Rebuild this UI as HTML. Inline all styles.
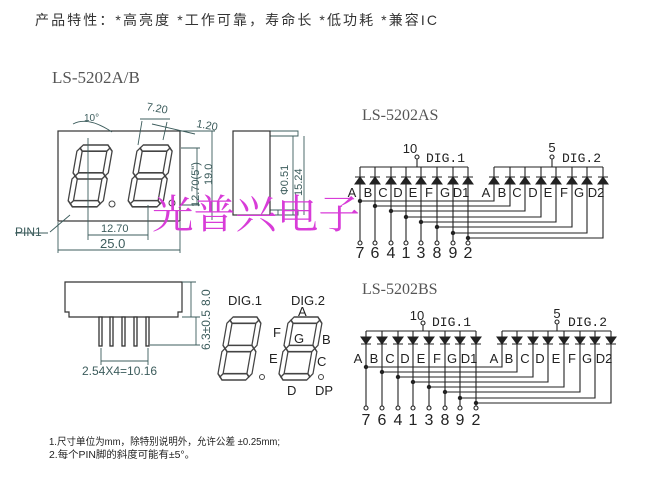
<!DOCTYPE html>
<html><head><meta charset="utf-8"><style>
html,body{margin:0;padding:0;background:#fff;}
svg{display:block;}
.t{font-family:"Liberation Sans","Noto Sans CJK SC",sans-serif;}
.s{font-family:"Liberation Serif","Noto Serif CJK SC",serif;}
</style></head><body>
<svg width="650" height="488" viewBox="0 0 650 488" xmlns="http://www.w3.org/2000/svg">
<defs>
<g id="dg" fill="#fff" stroke="#444" stroke-width="1.5">
<polygon points="3,3 6,0 34,0 37,3 34,6 6,6"/>
<polygon points="3,30 6,27 34,27 37,30 34,33 6,33"/>
<polygon points="3,57 6,54 34,54 37,57 34,60 6,60"/>
<polygon points="0,6 3,3 6,6 6,27 3,30 0,27"/>
<polygon points="34,6 37,3 40,6 40,27 37,30 34,27"/>
<polygon points="0,33 3,30 6,33 6,54 3,57 0,54"/>
<polygon points="34,33 37,30 40,33 40,54 37,57 34,54"/>
</g>
</defs>
<rect width="650" height="488" fill="#fff"/>
<text x="35" y="25" class="t" font-size="14" fill="#333" textLength="402" lengthAdjust="spacing">产品特性：*高亮度 *工作可靠，寿命长 *低功耗 *兼容IC</text>
<text x="52" y="83" class="s" font-size="17" fill="#555">LS-5202A/B</text>

<!-- front view -->
<rect x="58" y="131" width="122" height="90" fill="#fff" stroke="#333" stroke-width="1.2"/>
<use href="#dg" transform="translate(78,145) skewX(-10) scale(0.88,1.03)"/>
<use href="#dg" transform="translate(138,145) skewX(-10) scale(0.88,1.03)"/>
<circle cx="112" cy="204" r="3" fill="#fff" stroke="#444"/>
<circle cx="172" cy="203" r="3" fill="#fff" stroke="#444"/>
<g stroke="#3c5c5c" stroke-width="0.9" fill="none">
<path d="M88 138V240 M148 205V240 M88 235H148 M58 222V253 M180 222V253 M58 250H180"/>
<path d="M73 124Q88 116 112 132 M142 121L138 145 M167 122L163 140 M140 119L170 119 M152 124L195 134 M181 148H200 M181 205H200 M197 148V205 M180 131H215 M212 131V220 M70 215L50 232 M15 233H48"/>
<path d="M270 136H298V131H270 M270 215H298V210H270 M278 210V215 M293 136V215 M304 136V215"/>
</g>
<rect x="233" y="131" width="37" height="84" fill="#fff" stroke="#333" stroke-width="1.2"/>
<text x="101" y="232" class="t" font-size="11" fill="#3c5c5c">12.70</text>
<text x="100" y="248" class="t" font-size="13" fill="#3c5c5c">25.0</text>
<text x="15" y="236" class="t" font-size="12" fill="#3c5c5c">PIN1</text>
<text x="84" y="121" class="t" font-size="10" fill="#3c5c5c">10°</text>
<text x="146" y="110" class="t" font-size="11" fill="#3c5c5c" transform="rotate(10 146 110)">7.20</text>
<text x="196" y="127" class="t" font-size="11" fill="#3c5c5c" transform="rotate(10 196 127)">1.20</text>
<text transform="translate(199,207) rotate(-90)" class="t" font-size="11" fill="#3c5c5c">12.70(5")</text>
<text transform="translate(212,185) rotate(-90)" class="t" font-size="11" fill="#3c5c5c">19.0</text>
<text transform="translate(288,195) rotate(-90)" class="t" font-size="11" fill="#3c5c5c">Φ0.51</text>
<text transform="translate(302,196) rotate(-90)" class="t" font-size="11" fill="#3c5c5c">15.24</text>
<text x="152" y="228" font-family="'Noto Serif CJK SC','Liberation Serif',serif" font-size="40" fill="#d83cd8" textLength="208" lengthAdjust="spacingAndGlyphs">光普兴电子</text>

<!-- AS schematic -->
<text x="362" y="120" class="s" font-size="16" fill="#555">LS-5202AS</text>
<g stroke="#222" stroke-width="1.1" fill="none">
<path d="M360 167V241 M375 167V241 M391 167V241 M406 167V241 M421 167V241 M437 167V241 M453 167V241 M468 167V241 M360 167H468 M494 167H603 M417 159V167 M552 159V167 M360 201H494V167 M375 206H510V167 M391 211H525V167 M406 217H541V167 M421 222H556V167 M437 227H572V167 M453 233H587V167 M468 238H603V167"/>
<circle cx="417" cy="157" r="2"/><circle cx="552" cy="157" r="2"/>
<circle cx="360" cy="243" r="2"/><circle cx="375" cy="243" r="2"/><circle cx="391" cy="243" r="2"/><circle cx="406" cy="243" r="2"/><circle cx="421" cy="243" r="2"/><circle cx="437" cy="243" r="2"/><circle cx="453" cy="243" r="2"/><circle cx="468" cy="243" r="2"/>
</g>
<path fill="#222" stroke="#222" stroke-width="1" d="M355 184h10l-5-7zM355 177h10 M370 184h10l-5-7zM370 177h10 M386 184h10l-5-7zM386 177h10 M401 184h10l-5-7zM401 177h10 M416 184h10l-5-7zM416 177h10 M432 184h10l-5-7zM432 177h10 M448 184h10l-5-7zM448 177h10 M463 184h10l-5-7zM463 177h10 M489 184h10l-5-7zM489 177h10 M505 184h10l-5-7zM505 177h10 M520 184h10l-5-7zM520 177h10 M536 184h10l-5-7zM536 177h10 M551 184h10l-5-7zM551 177h10 M567 184h10l-5-7zM567 177h10 M582 184h10l-5-7zM582 177h10 M598 184h10l-5-7zM598 177h10"/>
<g fill="#222"><circle cx="360" cy="201" r="2.2"/><circle cx="375" cy="206" r="2.2"/><circle cx="391" cy="211" r="2.2"/><circle cx="406" cy="217" r="2.2"/><circle cx="421" cy="222" r="2.2"/><circle cx="437" cy="227" r="2.2"/><circle cx="453" cy="233" r="2.2"/><circle cx="468" cy="238" r="2.2"/></g>
<g class="t" font-size="13" fill="#222" text-anchor="middle">
<text x="410" y="153">10</text><text x="552" y="152">5</text>
<text x="352" y="197">A</text><text x="368" y="197">B</text><text x="383" y="197">C</text><text x="398" y="197">D</text><text x="413" y="197">E</text><text x="429" y="197">F</text><text x="445" y="197">G</text><text x="461" y="197">D1</text>
<text x="486" y="197">A</text><text x="502" y="197">B</text><text x="517" y="197">C</text><text x="533" y="197">D</text><text x="548" y="197">E</text><text x="564" y="197">F</text><text x="579" y="197">G</text><text x="596" y="197">D2</text>
<text x="360" y="258" font-size="16">7</text><text x="375" y="258" font-size="16">6</text><text x="391" y="258" font-size="16">4</text><text x="406" y="258" font-size="16">1</text><text x="421" y="258" font-size="16">3</text><text x="437" y="258" font-size="16">8</text><text x="453" y="258" font-size="16">9</text><text x="468" y="258" font-size="16">2</text>
</g>
<text x="426" y="162" font-family="'Liberation Mono',monospace" font-size="13" fill="#222">DIG.1</text>
<text x="562" y="162" font-family="'Liberation Mono',monospace" font-size="13" fill="#222">DIG.2</text>

<!-- BS schematic -->
<text x="362" y="294" class="s" font-size="16" fill="#555">LS-5202BS</text>
<g stroke="#222" stroke-width="1.1" fill="none">
<path d="M366 331V406 M382 331V406 M398 331V406 M413 331V406 M429 331V406 M445 331V406 M460 331V406 M476 331V406 M366 331H476 M502 331H611 M423 325V331 M557 324V331 M366 367H502V331 M382 372H517V331 M398 377H533V331 M413 382H548V331 M429 387H564V331 M445 392H580V331 M460 398H595V331 M476 403H611V331"/>
<circle cx="423" cy="323" r="2"/><circle cx="557" cy="322" r="2"/>
<circle cx="366" cy="408" r="2"/><circle cx="382" cy="408" r="2"/><circle cx="398" cy="408" r="2"/><circle cx="413" cy="408" r="2"/><circle cx="429" cy="408" r="2"/><circle cx="445" cy="408" r="2"/><circle cx="460" cy="408" r="2"/><circle cx="476" cy="408" r="2"/>
</g>
<path fill="#222" stroke="#222" stroke-width="1" d="M361 337h10l-5 7zM361 344h10 M377 337h10l-5 7zM377 344h10 M393 337h10l-5 7zM393 344h10 M408 337h10l-5 7zM408 344h10 M424 337h10l-5 7zM424 344h10 M440 337h10l-5 7zM440 344h10 M455 337h10l-5 7zM455 344h10 M471 337h10l-5 7zM471 344h10 M497 337h10l-5 7zM497 344h10 M512 337h10l-5 7zM512 344h10 M528 337h10l-5 7zM528 344h10 M543 337h10l-5 7zM543 344h10 M559 337h10l-5 7zM559 344h10 M575 337h10l-5 7zM575 344h10 M590 337h10l-5 7zM590 344h10 M606 337h10l-5 7zM606 344h10"/>
<g fill="#222"><circle cx="366" cy="367" r="2.2"/><circle cx="382" cy="372" r="2.2"/><circle cx="398" cy="377" r="2.2"/><circle cx="413" cy="382" r="2.2"/><circle cx="429" cy="387" r="2.2"/><circle cx="445" cy="392" r="2.2"/><circle cx="460" cy="398" r="2.2"/><circle cx="476" cy="403" r="2.2"/></g>
<g class="t" font-size="13" fill="#222" text-anchor="middle">
<text x="417" y="320">10</text><text x="557" y="318">5</text>
<text x="358" y="363">A</text><text x="374" y="363">B</text><text x="390" y="363">C</text><text x="405" y="363">D</text><text x="421" y="363">E</text><text x="437" y="363">F</text><text x="452" y="363">G</text><text x="469" y="363">D1</text>
<text x="494" y="363">A</text><text x="509" y="363">B</text><text x="525" y="363">C</text><text x="540" y="363">D</text><text x="556" y="363">E</text><text x="572" y="363">F</text><text x="587" y="363">G</text><text x="604" y="363">D2</text>
<text x="366" y="425" font-size="16">7</text><text x="382" y="425" font-size="16">6</text><text x="398" y="425" font-size="16">4</text><text x="413" y="425" font-size="16">1</text><text x="429" y="425" font-size="16">3</text><text x="445" y="425" font-size="16">8</text><text x="460" y="425" font-size="16">9</text><text x="476" y="425" font-size="16">2</text>
</g>
<text x="432" y="326" font-family="'Liberation Mono',monospace" font-size="13" fill="#222">DIG.1</text>
<text x="568" y="326" font-family="'Liberation Mono',monospace" font-size="13" fill="#222">DIG.2</text>

<!-- bottom side view -->
<path d="M65 282H182V312H178V317H69V312H65Z" fill="#fff" stroke="#333" stroke-width="1.2"/>
<g stroke="#333" stroke-width="1.3" fill="#fff">
<rect x="99" y="317" width="3" height="29"/><rect x="110" y="317" width="3" height="29"/><rect x="122" y="317" width="3" height="29"/><rect x="134" y="317" width="3" height="29"/><rect x="146" y="317" width="3" height="29"/>
</g>
<g stroke="#3c5c5c" stroke-width="0.9" fill="none">
<path d="M182 282H196 M182 317H200 M150 345H200 M191 282V317 M196 317V345 M101 348V365 M148 348V365 M101 361H148"/>
</g>
<text transform="translate(210,306) rotate(-90)" class="t" font-size="12" fill="#3c5c5c">8.0</text>
<text transform="translate(210,350) rotate(-90)" class="t" font-size="12" fill="#3c5c5c">6.3±0.5</text>
<text x="82" y="375" class="t" font-size="12" fill="#3c5c5c">2.54X4=10.16</text>

<!-- big digits -->
<text x="228" y="305" class="t" font-size="13" fill="#222">DIG.1</text>
<text x="291" y="305" class="t" font-size="13" fill="#222">DIG.2</text>
<use href="#dg" transform="translate(228,317) skewX(-10) scale(0.85,1.05)"/>
<use href="#dg" transform="translate(289,317) skewX(-10) scale(0.85,1.05)"/>
<circle cx="262" cy="377" r="2.5" fill="#fff" stroke="#444"/>
<circle cx="321" cy="377" r="2.5" fill="#fff" stroke="#444"/>
<g class="t" font-size="13" fill="#222">
<text x="298" y="316">A</text><text x="273" y="337">F</text><text x="322" y="344">B</text><text x="294" y="343">G</text><text x="269" y="363">E</text><text x="317" y="366">C</text><text x="287" y="395">D</text><text x="315" y="395">DP</text>
</g>

<text x="49" y="445" class="t" font-size="10" fill="#222" textLength="231" lengthAdjust="spacingAndGlyphs">1.尺寸单位为mm，除特别说明外，允许公差 ±0.25mm;</text>
<text x="49" y="458" class="t" font-size="10" fill="#222" textLength="146" lengthAdjust="spacingAndGlyphs">2.每个PIN脚的斜度可能有±5°。</text>
</svg>
</body></html>
